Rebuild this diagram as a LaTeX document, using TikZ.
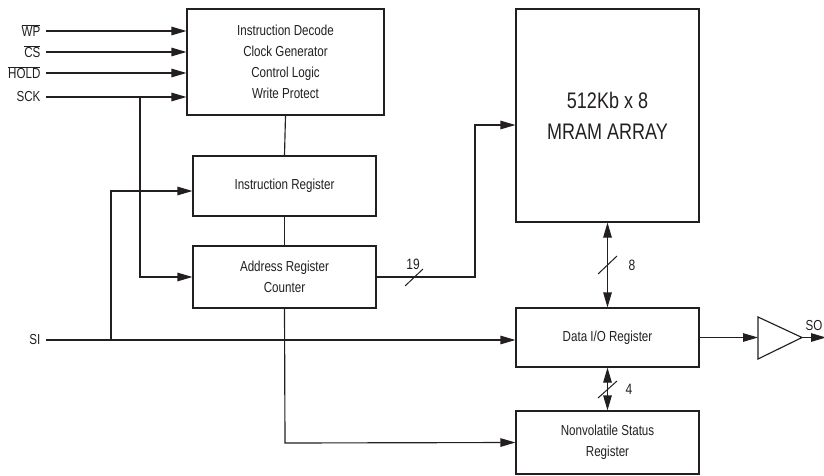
\documentclass[tikz,border=0pt]{standalone}
\usepackage{fontspec}
\setmainfont{Liberation Sans}[FakeStretch=0.80]
\usetikzlibrary{arrows.meta}
\definecolor{ink}{HTML}{231F20}
\begin{document}
\begin{tikzpicture}[x=1pt,y=-1pt,
  line width=1.15pt, draw=ink, text=ink,
  every node/.style={font=\fontsize{14.5}{20.8}\selectfont},
  blk/.style={draw, line width=1.15pt, inner sep=0pt, align=center},
  arr/.style={-{Triangle[length=15pt,width=8.5pt]}},
  darr/.style={{Triangle[length=15pt,width=8.5pt]}-{Triangle[length=15pt,width=8.5pt]}},
  lbl/.style={anchor=east, inner sep=0pt},
  bus/.style={line width=1pt},
  buslbl/.style={inner sep=0pt, font=\fontsize{15}{17}\selectfont}]
\useasboundingbox (0,0) rectangle (824,476);

% blocks
\node[blk, minimum width=197pt, minimum height=106pt] (dec) at (285.5,62)
  {Instruction Decode\\Clock Generator\\Control Logic\\Write Protect};
\node[blk, minimum width=183pt, minimum height=60pt] (ir) at (284.5,186) {Instruction Register};
\node[blk, minimum width=183pt, minimum height=62pt] (ar) at (284.5,277) {Address Register\\Counter};
\node[blk, minimum width=183pt, minimum height=213pt, font=\fontsize{22.5}{31}\selectfont] (mram) at (607.5,115.5) {512Kb x 8\\MRAM ARRAY};
\node[blk, minimum width=183pt, minimum height=59pt] (dio) at (607.5,337.5) {Data I/O Register};
\node[blk, minimum width=183pt, minimum height=63pt] (nvs) at (607.5,442.5) {Nonvolatile Status\\Register};

% buffer
\coordinate (bufin) at (758,337.5);
\coordinate (bufout) at (802,337.5);
\draw[line width=1.15pt] (758,317) -- (bufout) -- (758,359) -- cycle;
\coordinate (soend) at (826,337.5);

% input labels
\node[lbl] (wp) at (41,31) {$\overline{\hbox{WP}}$};
\node[lbl] (cs) at (41,52) {$\overline{\hbox{CS}}$};
\node[lbl] (hold) at (41,73) {$\overline{\hbox{HOLD}}$};
\node[lbl] (sck) at (41,97) {SCK};
\node[lbl] (si) at (41,340) {SI};
\node[inner sep=0pt] (so) at (814,326) {SO};

% input arrows
\draw[arr] (46,31) -- (dec.west |- wp);
\draw[arr] (46,52) -- (dec.west |- cs);
\draw[arr] (46,73) -- (dec.west |- hold);
\draw[arr] (46,97) -- (dec.west |- sck);
\coordinate (sckb) at (140,97);
\draw[arr] (sckb) -- (140,277) -- (ar.west);

% SI
\coordinate (sib) at (111,340);
\draw[arr] (46,340) -- (dio.west |- sib);
\draw[arr] (sib) -- (111,191) -- (ir.west |- 0,191);

% vertical connections
\draw (dec.south) -- (ir.north);
\draw (ir.south) -- (ar.north);
\draw[arr] (ar.south) -- (285,443) -- (nvs.west);

% address bus to MRAM
\draw[arr] (ar.east) -- (475,277) -- (475,125) -- (mram.west |- 0,125);
\draw[bus] (405,286) -- (423,269);
\node[buslbl] at (413,264) {19};

% data buses
\draw[darr] (mram.south) -- (dio.north);
\draw[bus] (598,274) -- (617,256);
\node[buslbl] at (632,265) {8};
\draw[darr] (dio.south) -- (nvs.north);
\draw[bus] (598,398) -- (617,381);
\node[buslbl] at (629,389) {4};

% output
\draw[arr] (dio.east) -- (bufin);
\draw[arr] (bufout) -- (soend);
\end{tikzpicture}
\end{document}
